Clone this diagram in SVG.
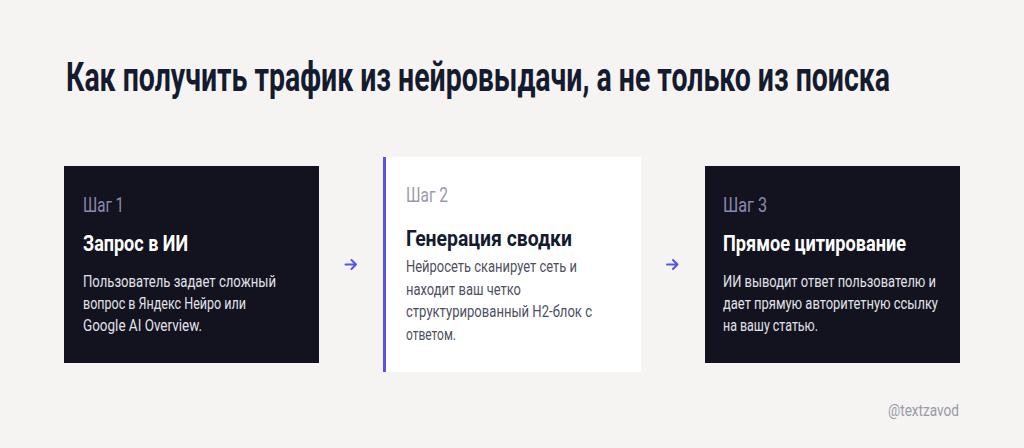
<svg xmlns="http://www.w3.org/2000/svg" width="1024" height="448" viewBox="0 0 1024 448">
<style>
text{font-family:Roboto,"Liberation Sans",sans-serif}
.title{font-size:40px;font-weight:700;fill:#151b2f}
.step{font-size:21px;font-weight:400}
.head{font-size:22px;font-weight:700}
.body{font-size:16.5px;font-weight:400}
.dark{fill:#13131f}
.dstep{fill:#8c89ae}
.dhead{fill:#ffffff}
.dbody{fill:#e2e2ea}
.lstep{fill:#9b9aaa}
.lhead{fill:#151b2f}
.lbody{fill:#4f4f5f}
.arrow{stroke:#5753ee;stroke-width:2;fill:none;stroke-linecap:round;stroke-linejoin:round}
</style>
<rect width="1024" height="448" fill="#f5f4f2"/>
<text class="title" x="66" y="90.5" textLength="824" lengthAdjust="spacingAndGlyphs">Как получить трафик из нейровыдачи, а не только из поиска</text>
<g id="step1">
<rect class="dark" x="64" y="166" width="255" height="197"/>
<text class="step dstep" x="83" y="212" textLength="41" lengthAdjust="spacingAndGlyphs">Шаг 1</text>
<text class="head dhead" x="83" y="251" textLength="105" lengthAdjust="spacingAndGlyphs">Запрос в ИИ</text>
<text class="body dbody" x="83" y="287" textLength="193" lengthAdjust="spacingAndGlyphs">Пользователь задает сложный</text>
<text class="body dbody" x="83" y="309" textLength="163" lengthAdjust="spacingAndGlyphs">вопрос в Яндекс Нейро или</text>
<text class="body dbody" x="83" y="331" textLength="119" lengthAdjust="spacingAndGlyphs">Google AI Overview.</text>
</g>
<g id="step2">
<rect x="383" y="157" width="258" height="215" fill="#ffffff"/>
<rect x="383" y="157" width="3" height="215" fill="#5753ee"/>
<text class="step lstep" x="406" y="202" textLength="42" lengthAdjust="spacingAndGlyphs">Шаг 2</text>
<text class="head lhead" x="406" y="246" textLength="166" lengthAdjust="spacingAndGlyphs">Генерация сводки</text>
<text class="body lbody" x="406" y="272" textLength="171" lengthAdjust="spacingAndGlyphs">Нейросеть сканирует сеть и</text>
<text class="body lbody" x="406" y="294.5" textLength="115" lengthAdjust="spacingAndGlyphs">находит ваш четко</text>
<text class="body lbody" x="406" y="317" textLength="186" lengthAdjust="spacingAndGlyphs">структурированный H2-блок с</text>
<text class="body lbody" x="406" y="339.5" textLength="50" lengthAdjust="spacingAndGlyphs">ответом.</text>
</g>
<g id="step3">
<rect class="dark" x="705" y="166" width="255" height="197"/>
<text class="step dstep" x="723" y="212" textLength="44" lengthAdjust="spacingAndGlyphs">Шаг 3</text>
<text class="head dhead" x="723" y="251" textLength="183" lengthAdjust="spacingAndGlyphs">Прямое цитирование</text>
<text class="body dbody" x="723" y="287" textLength="213" lengthAdjust="spacingAndGlyphs">ИИ выводит ответ пользователю и</text>
<text class="body dbody" x="723" y="309" textLength="215" lengthAdjust="spacingAndGlyphs">дает прямую авторитетную ссылку</text>
<text class="body dbody" x="723" y="331" textLength="95" lengthAdjust="spacingAndGlyphs">на вашу статью.</text>
</g>
<g id="connectors">
<path class="arrow" d="M345.5 264.5H356M351.5 260L356 264.5L351.5 269"/>
<path class="arrow" d="M667 264.5H677.5M673 260L677.5 264.5L673 269"/>
</g>
<text x="888" y="416" font-size="16" fill="#9a99aa" textLength="71" lengthAdjust="spacingAndGlyphs">@textzavod</text>
</svg>
